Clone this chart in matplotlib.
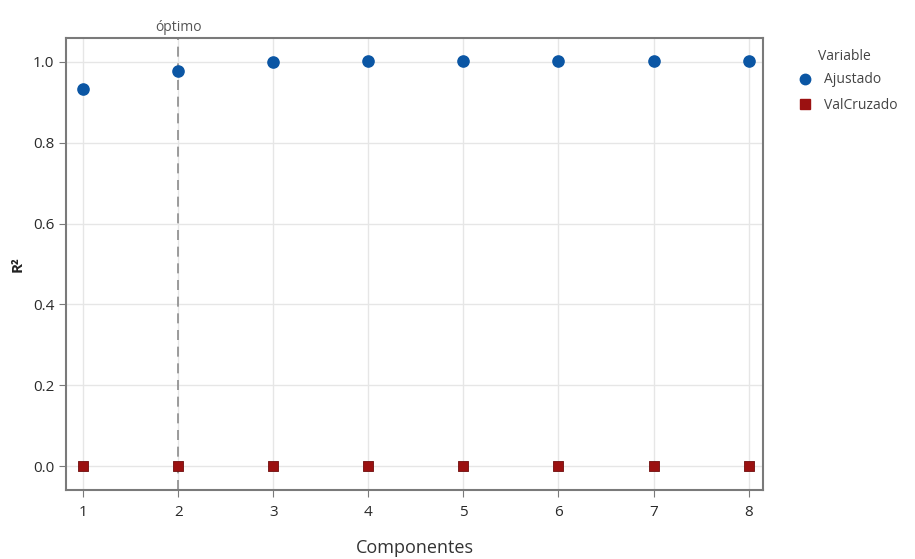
import matplotlib.pyplot as plt
from matplotlib.lines import Line2D

plt.rcParams['font.family'] = ['Open Sans', 'DejaVu Sans']

componentes = [1, 2, 3, 4, 5, 6, 7, 8]
ajustado = [0.933, 0.977, 1.0, 1.003, 1.003, 1.003, 1.003, 1.003]
valcruzado = [0.0, 0.0, 0.0, 0.0, 0.0, 0.0, 0.0, 0.0]
optimo = 2

fig = plt.figure(figsize=(9.15, 5.59), dpi=100)
ax = fig.add_axes([0.0721, 0.1234, 0.7617, 0.8086])

ax.grid(True, color='#e6e6e6', linewidth=1)
ax.set_axisbelow(True)

ax.axvline(optimo, color='#8c8c8c', linestyle=(0, (6, 4)), linewidth=1.2, zorder=1)
ax.text(optimo, 1.066, 'óptimo', ha='center', va='bottom', fontsize=10, color='#555555')

ax.scatter(componentes, ajustado, marker='o', s=65, color='#0b56a4', zorder=3, label='Ajustado')
ax.scatter(componentes, valcruzado, marker='s', s=60, color='#9b1111',
           edgecolors='#6e0c0c', linewidths=0.6, zorder=3, label='ValCruzado')

ax.set_xlim(0.82, 8.15)
ax.set_ylim(-0.059, 1.059)
ax.set_xticks(componentes)
ax.set_yticks([0.0, 0.2, 0.4, 0.6, 0.8, 1.0])
ax.set_yticklabels(['0.0', '0.2', '0.4', '0.6', '0.8', '1.0'])

for s in ax.spines.values():
    s.set_color('#7a7a7a')
    s.set_linewidth(1.5)

ax.tick_params(axis='both', colors='#7a7a7a', labelcolor='#2a2a2a', labelsize=11, length=5)
ax.tick_params(axis='x', pad=6)
ax.set_xlabel('Componentes', fontsize=13, color='#333333', va='center')
ax.xaxis.set_label_coords(0.5, -0.128)
ax.set_ylabel('R²', fontsize=11, fontweight='bold', color='#222222', va='center')
ax.yaxis.set_label_coords(-0.07, 0.5)

handles = [
    Line2D([], [], marker='o', linestyle='', markersize=7.5, color='#0b56a4'),
    Line2D([], [], marker='s', linestyle='', markersize=7.5, color='#9b1111'),
]
leg = fig.legend(handles, ['Ajustado', 'ValCruzado'], title='Variable',
                 loc='upper left', bbox_to_anchor=(0.866, 0.922), frameon=False,
                 fontsize=10, title_fontsize=10, handletextpad=0.9,
                 labelspacing=0.75, borderaxespad=0, handlelength=1.0)
leg._legend_box.align = 'left'
leg._legend_box.sep = 6
for t in leg.get_texts():
    t.set_color('#444444')
leg.get_title().set_color('#444444')
leg.get_title().set_x(20)

fig.savefig('out.png', dpi=100)
